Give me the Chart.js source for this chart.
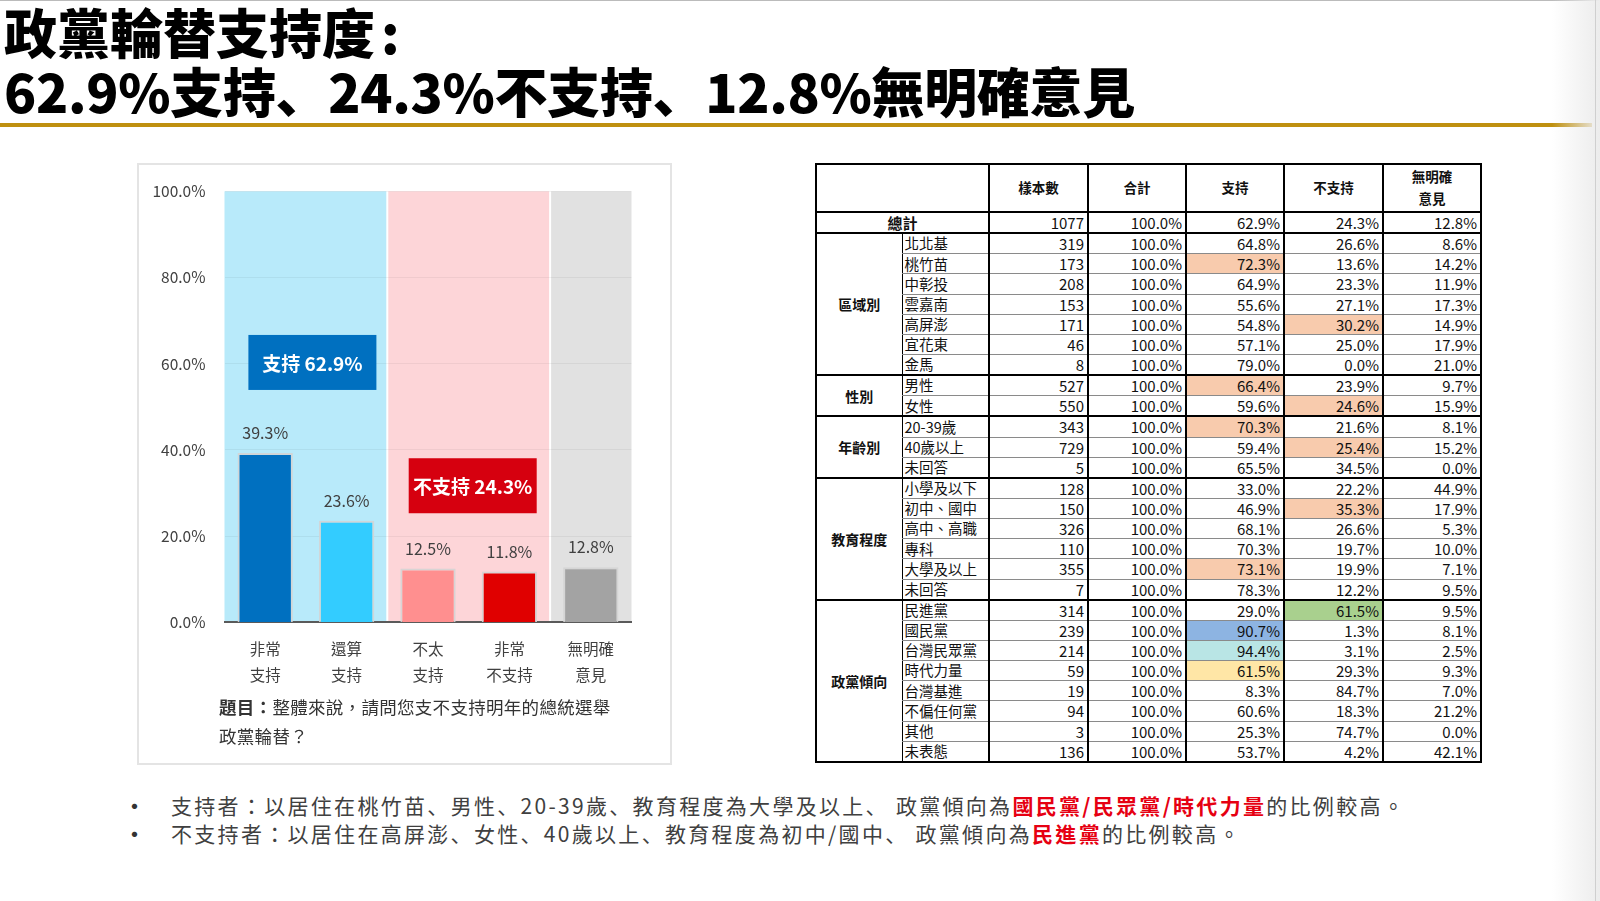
<!DOCTYPE html>
<html>
<head>
<meta charset="utf-8">
<script src="https://cdn.jsdelivr.net/npm/chart.js@4.4.0/dist/chart.umd.min.js"></script>
<style>
  body { margin: 0; width: 1600px; height: 901px; position: relative; background: #fff; overflow: hidden;
         font-family: 'Noto Sans CJK TC', 'Noto Sans', sans-serif; color: #222; }
  .title { position: absolute; left: 4px; top: 2px; font-size: 53px; font-weight: 900; line-height: 59px; color: #000; white-space: nowrap; }
  .title .l2 { letter-spacing: -0.3px; }
  .title .colon { margin-left: 6px; }
  .p { font-family: 'Noto Sans CJK SC'; }
  .rule { position: absolute; left: 0; top: 123px; width: 1592px; height: 4px; background: #BF900F; }
  .topline { position: absolute; left: 0; top: 0; width: 1600px; height: 1px; background: #bbb; }
  .edge { position: absolute; left: 1552px; top: 0; width: 48px; height: 901px;
          background: linear-gradient(to right, rgba(255,255,255,0), #ececec); }
  .edge2 { position: absolute; left: 1595px; top: 0; width: 1px; height: 901px; background: #cfcfcf; }
  .panel { position: absolute; left: 137px; top: 163px; width: 531px; height: 598px; border: 2px solid #e4e4e4; }
  #chartBox { position: absolute; left: 137px; top: 163px; width: 533px; height: 530px; }
  .question { position: absolute; left: 219px; top: 692px; font-size: 17.5px; line-height: 29px; color: #333; letter-spacing: 0.3px; }
  .question b { font-weight: 700; }
  table { position: absolute; left: 815px; top: 163px; width: 665px; border-collapse: collapse; table-layout: fixed;
          border: 2px solid #000; font-size: 15px; color: #111; }
  td, th { padding: 0 3px; line-height: 1; white-space: nowrap; overflow: hidden; }
  th { font-weight: 700; font-size: 13.5px; border: 2px solid #000; line-height: 1.6; }
  td { border-top: 1px solid #8a8a8a; border-bottom: 1px solid #8a8a8a; height: 19.15px; }
  td.num { text-align: right; border-left: 2px solid #000; border-right: 2px solid #000; }
  td.lab { text-align: left; font-size: 14.5px; border-left: 1px solid #000; border-right: 2px solid #000; padding-left: 2px; }
  td.grp { text-align: center; font-weight: 700; font-size: 14px; border-top: 2px solid #000; border-bottom: 2px solid #000; }
  tr.first td { border-top: 2px solid #000; }
  tr.total td { font-weight: 400; border-bottom: 1.5px solid #000; }
  tr.total td.tot { font-weight: 700; text-align: center; }
  .bullets { position: absolute; left: 130px; top: 791px; font-size: 21px; line-height: 28px; color: #404040; letter-spacing: 2.3px; }
  .bullets div { position: relative; padding-left: 41px; white-space: nowrap; }
  .bullets div::before { content: '•'; position: absolute; left: -6px; top: 0; font-weight: 700; color: #333; }
  .red { color: #E60012; font-weight: 700; }
</style>
</head>
<body>
<div class="topline"></div>
<div class="title">政黨輪替支持度<span class="colon">:</span><br><span class="l2">62.9%支持、24.3%不支持、12.8%無明確意見</span></div>
<div class="rule"></div>
<div class="edge"></div>
<div class="edge2"></div>

<div class="panel"></div>
<div id="chartBox"><canvas id="chart"></canvas></div>
<div class="question"><b>題目：</b>整體來說，請問您支不支持明年的總統選舉<br>政黨輪替？</div>

<table id="tbl"></table>

<div class="bullets">
  <div>支持者：以居住在桃竹苗、男性、20-39歲、教育程度為大學及以上、 政黨傾向為<span class="red">國民黨/民眾黨/時代力量</span>的比例較高。</div>
  <div>不支持者：以居住在高屏澎、女性、40歲以上、教育程度為初中/國中、 政黨傾向為<span class="red">民進黨</span>的比例較高。</div>
</div>

<script>
// ---- chart data ----
const categories = [['非常', '支持'], ['還算', '支持'], ['不太', '支持'], ['非常', '不支持'], ['無明確', '意見']];
const shares = [39.3, 23.6, 12.5, 11.8, 12.8];
const barColors = ['#0070C0', '#33CCFF', '#FF8F8F', '#E00000', '#A3A3A3'];
const yTicks = [0, 20, 40, 60, 80, 100];

// groups behind the bars
const bandGroups = [[0, 1], [2, 3], [4, 4]];
const bandColors = ['#B8EAFA', '#FDD5D8', '#E1E1E1'];
const groupLabels = ['支持 62.9%', '不支持 24.3%'];
const groupLabelColors = ['#0070C0', '#D6000F'];

// ---- table data ----
const totalRow = [1077, 100.0, 62.9, 24.3, 12.8];
const tableGroups = [['區域別', 7], ['性別', 2], ['年齡別', 3], ['教育程度', 6], ['政黨傾向', 8]];
const rowLabels = ['北北基', '桃竹苗', '中彰投', '雲嘉南', '高屏澎', '宜花東', '金馬',
  '男性', '女性',
  '20-39歲', '40歲以上', '未回答',
  '小學及以下', '初中、國中', '高中、高職', '專科', '大學及以上', '未回答',
  '民進黨', '國民黨', '台灣民眾黨', '時代力量', '台灣基進', '不偏任何黨', '其他', '未表態'];
const sampleSizes = [319, 173, 208, 153, 171, 46, 8, 527, 550, 343, 729, 5, 128, 150, 326, 110, 355, 7,
  314, 239, 214, 59, 19, 94, 3, 136];
const supportPct = [64.8, 72.3, 64.9, 55.6, 54.8, 57.1, 79.0, 66.4, 59.6, 70.3, 59.4, 65.5,
  33.0, 46.9, 68.1, 70.3, 73.1, 78.3, 29.0, 90.7, 94.4, 61.5, 8.3, 60.6, 25.3, 53.7];
const opposePct = [26.6, 13.6, 23.3, 27.1, 30.2, 25.0, 0.0, 23.9, 24.6, 21.6, 25.4, 34.5,
  22.2, 35.3, 26.6, 19.7, 19.9, 12.2, 61.5, 1.3, 3.1, 29.3, 84.7, 18.3, 74.7, 4.2];
const noOpinionPct = [8.6, 14.2, 11.9, 17.3, 14.9, 17.9, 21.0, 9.7, 15.9, 8.1, 15.2, 0.0,
  44.9, 17.9, 5.3, 10.0, 7.1, 9.5, 9.5, 8.1, 2.5, 9.3, 7.0, 21.2, 0.0, 42.1];
// [row, column (2 = 支持, 3 = 不支持), fill]
const highlights = [[1, 2, '#F8CBAD'], [4, 3, '#F8CBAD'], [7, 2, '#F8CBAD'], [8, 3, '#F8CBAD'],
  [9, 2, '#F8CBAD'], [10, 3, '#F8CBAD'], [13, 3, '#F8CBAD'], [16, 2, '#F8CBAD'],
  [18, 3, '#A9D08E'], [19, 2, '#8DB4E2'], [20, 2, '#B9E5E5'], [21, 2, '#FFE6A6']];

// 、 drawn in the lower-left style of the slide
document.querySelectorAll('.title .l2, .bullets div').forEach(el => {
  el.innerHTML = el.innerHTML.replace(/、/g, '<span class="p">、</span>');
});

// ---- build table ----
const tbl = document.getElementById('tbl');
let html = '<colgroup><col style="width:86px"><col style="width:87px"><col style="width:99px">' +
  '<col style="width:98px"><col style="width:98px"><col style="width:99px"><col style="width:98px"></colgroup>';
html += '<tr style="height:48px"><th colspan="2"></th><th>樣本數</th><th>合計</th><th>支持</th><th>不支持</th><th>無明確<br>意見</th></tr>';
html += '<tr class="total"><td class="tot" colspan="2">總計</td>' +
  '<td class="num">' + totalRow[0] + '</td>' +
  totalRow.slice(1).map(v => '<td class="num">' + v.toFixed(1) + '%</td>').join('') + '</tr>';
let r = 0;
tableGroups.forEach(([name, n]) => {
  for (let k = 0; k < n; k++, r++) {
    const fill = c => {
      const h = highlights.find(e => e[0] === r && e[1] === c);
      return h ? ' style="background:' + h[2] + '"' : '';
    };
    html += '<tr' + (k === 0 ? ' class="first"' : '') + '>';
    if (k === 0) html += '<td class="grp" rowspan="' + n + '">' + name + '</td>';
    html += '<td class="lab">' + rowLabels[r] + '</td>' +
      '<td class="num">' + sampleSizes[r] + '</td>' +
      '<td class="num">100.0%</td>' +
      '<td class="num"' + fill(2) + '>' + supportPct[r].toFixed(1) + '%</td>' +
      '<td class="num"' + fill(3) + '>' + opposePct[r].toFixed(1) + '%</td>' +
      '<td class="num">' + noOpinionPct[r].toFixed(1) + '%</td></tr>';
  }
});
tbl.innerHTML = html;

// ---- chart ----
Chart.defaults.font.family = "'Noto Sans CJK TC', 'Noto Sans', sans-serif";
Chart.defaults.color = '#404040';

const bands = {
  id: 'bands',
  beforeDraw(chart) {
    const { ctx, chartArea: a, scales: { x } } = chart;
    const half = (x.getPixelForValue(1) - x.getPixelForValue(0)) / 2;
    ctx.save();
    bandGroups.forEach((g, i) => {
      const l = x.getPixelForValue(g[0]) - half + (i > 0 ? 1 : 0);
      const rr = x.getPixelForValue(g[1]) + half - (i < bandGroups.length - 1 ? 1 : 0);
      ctx.fillStyle = bandColors[i];
      ctx.fillRect(l, a.top, rr - l, a.bottom - a.top);
    });
    ctx.restore();
  }
};

const labels = {
  id: 'labels',
  afterDatasetsDraw(chart) {
    const { ctx, scales: { x, y } } = chart;
    ctx.save();
    ctx.textAlign = 'center';
    ctx.textBaseline = 'middle';
    ctx.fillStyle = '#404040';
    ctx.font = "16px 'Noto Sans CJK TC'";
    chart.getDatasetMeta(0).data.forEach((bar, i) => {
      ctx.fillText(shares[i].toFixed(1) + '%', bar.x, bar.y - 20);
    });
    // summary boxes over the support / oppose groups
    const boxY = [60.3, 31.7];
    const boxShift = [6.5, 4];
    ctx.font = "bold 19px 'Noto Sans CJK TC'";
    groupLabels.forEach((t, i) => {
      const g = bandGroups[i];
      const cx = (x.getPixelForValue(g[0]) + x.getPixelForValue(g[1])) / 2 + boxShift[i];
      const cy = y.getPixelForValue(boxY[i]);
      ctx.fillStyle = groupLabelColors[i];
      ctx.fillRect(cx - 64, cy - 27.5, 128, 55);
      ctx.fillStyle = '#fff';
      ctx.fillText(t, cx, cy + 1);
    });
    ctx.restore();
  }
};

new Chart(document.getElementById('chart'), {
  type: 'bar',
  plugins: [bands, labels],
  data: {
    labels: categories,
    datasets: [{
      data: shares,
      backgroundColor: barColors,
      borderColor: 'rgba(212,212,212,0.9)',
      borderWidth: 2,
      borderSkipped: 'bottom',
      barPercentage: 0.68,
      categoryPercentage: 1
    }]
  },
  options: {
    responsive: true,
    maintainAspectRatio: false,
    animation: false,
    layout: { padding: { top: 21.8, right: 38.5, left: 0, bottom: 0 } },
    plugins: { legend: { display: false }, tooltip: { enabled: false } },
    scales: {
      x: {
        grid: { display: false },
        border: { display: true, color: '#5a5a5a', width: 2 },
        ticks: { padding: 6, font: { size: 15.5, lineHeight: 1.68 }, color: '#404040' },
        afterFit(s) { s.height = 70.6; }
      },
      y: {
        min: 0, max: 100,
        afterBuildTicks(s) { s.ticks = yTicks.map(v => ({ value: v })); },
        grid: { color: 'rgba(0,0,0,0.05)', drawTicks: false },
        border: { display: false },
        ticks: { padding: 19, font: { size: 15.5 }, color: '#404040', callback: v => v.toFixed(1) + '%' },
        afterFit(s) { s.width = 87.5; }
      }
    }
  }
});
</script>
</body>
</html>
